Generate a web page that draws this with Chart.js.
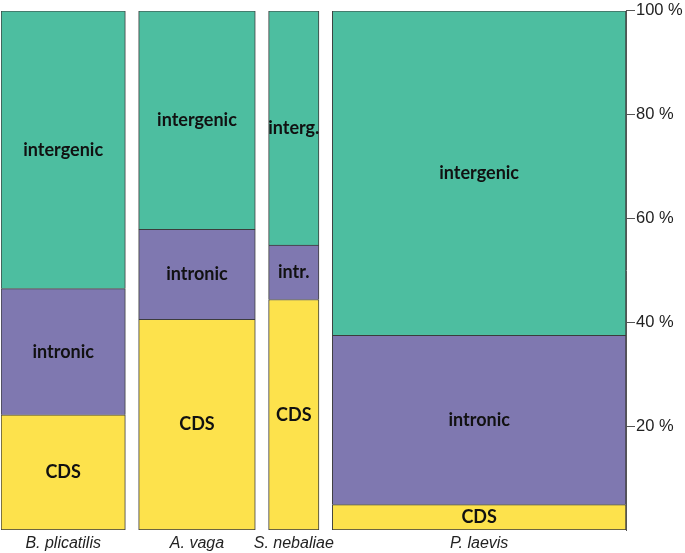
<!DOCTYPE html>
<html>
<head>
<meta charset="UTF-8">
<title>Genome composition</title>
<script src="https://cdn.jsdelivr.net/npm/chart.js"></script>
<style>
body {
  margin: 0;
  background: #ffffff;
}
</style>
</head>
<body>
<canvas id="chart" width="685" height="553"></canvas>
<script>
// species, column widths (relative genome size) and share of each part in %
const species = ["B. plicatilis", "A. vaga", "S. nebaliae", "P. laevis"];
const genomeSize = [124.2, 116.5, 50.3, 293.4];
const parts = ["CDS", "intronic", "intergenic"];
const cds = [22.2, 40.6, 44.4, 4.9];
const intronic = [24.3, 17.3, 10.5, 32.6];
const intergenic = [53.5, 42.1, 45.1, 62.5];
const partText = [
  ["CDS", "intronic", "intergenic"],
  ["CDS", "intronic", "intergenic"],
  ["CDS", "intr.", "interg."],
  ["CDS", "intronic", "intergenic"]
];
const yTicks = [20, 40, 60, 80, 100];

const colours = ["#fde24c", "#7f78b0", "#4dbea0"];
const gap = 13.3;

// column centres on the x axis
const centres = [];
let left = 0;
genomeSize.forEach(w => {
  centres.push(left + w / 2);
  left += w + gap;
});
const xMax = left - gap;

const values = [cds, intronic, intergenic];
const datasets = [];
species.forEach((sp, s) => {
  parts.forEach((p, k) => {
    datasets.push({
      label: sp + " " + p,
      data: [{ x: centres[s], y: values[k][s] }],
      backgroundColor: colours[k],
      borderColor: "#3c3c3c",
      borderWidth: 1,
      borderSkipped: k === 0 ? false : "start",
      stack: "col",
      barThickness: ctx => {
        const sx = ctx.chart.scales.x;
        return sx.getPixelForValue(genomeSize[s]) - sx.getPixelForValue(0);
      },
      text: partText[s][k]
    });
  });
});

// segment names written in the middle of each block
const segmentLabels = {
  id: "segmentLabels",
  afterDatasetsDraw(chart) {
    const c = chart.ctx;
    c.save();
    c.font = "bold 18px Lato";
    c.fillStyle = "#111";
    c.textAlign = "center";
    c.textBaseline = "middle";
    chart.data.datasets.forEach((ds, i) => {
      const el = chart.getDatasetMeta(i).data[0];
      const pt = el.getCenterPoint();
      c.fillText(ds.text, pt.x, pt.y);
    });
    c.restore();
  }
};

new Chart(document.getElementById("chart"), {
  type: "bar",
  data: { datasets: datasets },
  options: {
    responsive: false,
    animation: false,
    layout: { padding: { top: 8, left: 1, right: 0, bottom: 0 } },
    plugins: {
      legend: { display: false },
      tooltip: { enabled: false }
    },
    scales: {
      x: {
        type: "linear",
        stacked: true,
        offset: false,
        min: 0,
        max: xMax,
        grid: { display: false, drawTicks: false },
        border: { display: false },
        afterBuildTicks: scale => {
          scale.ticks = centres.map(v => ({ value: v }));
        },
        afterFit: scale => { scale.height = 23; },
        ticks: {
          autoSkip: false,
          maxRotation: 0,
          padding: 4,
          color: "#222",
          font: { family: "Liberation Sans", size: 16, style: "italic" },
          callback: (v, i) => species[i]
        }
      },
      y: {
        position: "right",
        stacked: true,
        min: 0,
        max: 100,
        afterBuildTicks: scale => {
          scale.ticks = yTicks.map(v => ({ value: v }));
        },
        afterFit: scale => { scale.width = 59; },
        grid: {
          drawOnChartArea: false,
          drawTicks: true,
          tickLength: 9,
          color: "#555"
        },
        border: { display: true, color: "#555", width: 1 },
        ticks: {
          padding: 1,
          color: "#222",
          font: { family: "Liberation Sans", size: 16.5 },
          callback: v => v + " %"
        }
      }
    }
  },
  plugins: [segmentLabels]
});
</script>
</body>
</html>
